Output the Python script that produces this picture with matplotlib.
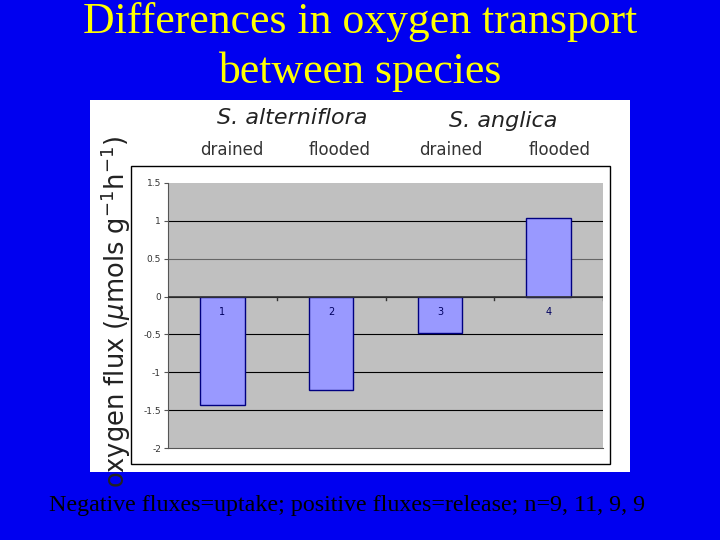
import matplotlib
matplotlib.use("Agg")
import matplotlib.pyplot as plt
from matplotlib.patches import Rectangle

categories = ["1", "2", "3", "4"]
values = [-1.43, -1.24, -0.48, 1.04]
yticks = [-2, -1.5, -1, -0.5, 0, 0.5, 1, 1.5]
ytick_labels = ["-2", "-1.5", "-1", "-0.5", "0", "0.5", "1", "1.5"]

W, H = 720, 540
fig = plt.figure(figsize=(7.2, 5.4), dpi=100)
fig.patch.set_facecolor("#0000F0")

def fx(x): return x / W
def fy(y): return 1 - y / H

# white panel
fig.patches.append(Rectangle((fx(90), fy(472)), fx(630) - fx(90), fy(100) - fy(472),
                             transform=fig.transFigure, facecolor="white", edgecolor="none", zorder=-2))
fig.patches.append(Rectangle((fx(131), fy(464)), fx(610) - fx(131), fy(166) - fy(464),
                             transform=fig.transFigure, facecolor="none", edgecolor="black", lw=1, zorder=-1))

fig.text(0.5, fy(22), "Differences in oxygen transport", ha="center", va="center",
         color="#FFFF00", fontsize=31.5, family="Liberation Serif")
fig.text(0.5, fy(72), "between species", ha="center", va="center",
         color="#FFFF00", fontsize=31.5, family="Liberation Serif")
fig.text(0.482, fy(505), "Negative fluxes=uptake; positive fluxes=release; n=9, 11, 9, 9",
         ha="center", va="center", color="black", fontsize=17.3, family="Liberation Serif")

fig.text(fx(292), fy(118), "S. alterniflora", ha="center", va="center", style="italic", fontsize=16, color="#222222")
fig.text(fx(503), fy(121), "S. anglica", ha="center", va="center", style="italic", fontsize=16, color="#222222")
for x, t in [(232, "drained"), (340, "flooded"), (451, "drained"), (560, "flooded")]:
    fig.text(fx(x), fy(150), t, ha="center", va="center", fontsize=12, color="#333333")

fig.text(fx(116), fy(312), r"oxygen flux ($\mu$mols g$^{-1}$h$^{-1}$)", rotation=90,
         ha="center", va="center", fontsize=18.5, color="#222222")

ax = fig.add_axes([fx(168), fy(448), fx(603) - fx(168), fy(183) - fy(448)])
ax.set_zorder(5)
ax.set_facecolor("#C0C0C0")
x = list(range(len(categories)))
ax.bar(x, values, width=0.41, color="#9999FF", edgecolor="#000080", lw=1, zorder=3)
for i, c in enumerate(categories):
    ax.text(i, -0.2, c, ha="center", va="center", fontsize=7, color="#000060", zorder=4)
ax.set_xlim(-0.5, 3.5)
ax.set_ylim(-2, 1.5)
ax.set_yticks(yticks)
ax.set_yticklabels(ytick_labels, fontsize=6.5, color="#333333")
ax.set_xticks([])
for y in yticks[1:-1]:
    ax.axhline(y, color="black" if y != 0.5 else "#666666", lw=0.8, zorder=1)
ax.axhline(0, color="#333333", lw=1.2, zorder=4)
for xt in [0.5, 1.5, 2.5, 3.5]:
    ax.plot([xt, xt], [0, -0.04], color="#333333", lw=1, zorder=4)
for s in ["top", "right"]:
    ax.spines[s].set_visible(False)
ax.spines["left"].set_color("#555555")
ax.spines["bottom"].set_color("#555555")
ax.tick_params(axis="y", length=3, color="#555555", pad=2)

fig.savefig("out.png", dpi=100, facecolor=fig.get_facecolor())
